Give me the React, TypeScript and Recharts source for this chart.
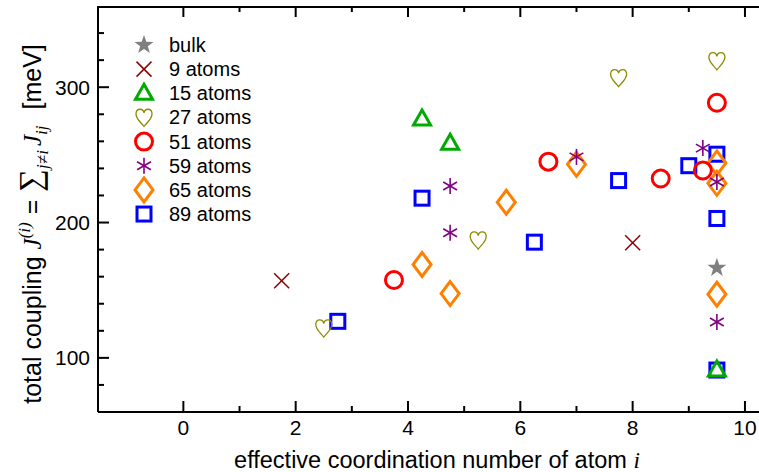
import React from 'react';
import { ScatterChart, Scatter, XAxis, YAxis } from 'recharts';

// coupling data: x = effective coordination number, y = total coupling (meV)
const bulk = [{ x: 9.5, y: 166.5 }];
const atoms9 = [{ x: 1.75, y: 157 }, { x: 8.0, y: 185 }];
const atoms15 = [{ x: 4.25, y: 276.5 }, { x: 4.75, y: 258.5 }, { x: 9.5, y: 91 }];
const atoms27 = [{ x: 2.5, y: 122 }, { x: 5.25, y: 187 }, { x: 7.75, y: 307 }, { x: 9.5, y: 319.5 }];
const atoms51 = [{ x: 3.75, y: 157.5 }, { x: 6.5, y: 245 }, { x: 8.5, y: 232.5 }, { x: 9.25, y: 238.5 }, { x: 9.5, y: 288.5 }];
const atoms59 = [{ x: 4.75, y: 227 }, { x: 4.75, y: 192.5 }, { x: 7.0, y: 248.5 }, { x: 9.25, y: 255 }, { x: 9.5, y: 230 }, { x: 9.5, y: 126.5 }];
const atoms65 = [{ x: 4.25, y: 169 }, { x: 4.75, y: 147.5 }, { x: 5.75, y: 215 }, { x: 7.0, y: 243 }, { x: 9.5, y: 244 }, { x: 9.5, y: 229 }, { x: 9.5, y: 147 }];
const atoms89 = [{ x: 2.75, y: 127 }, { x: 4.25, y: 218 }, { x: 6.25, y: 185.5 }, { x: 7.75, y: 231 }, { x: 9.0, y: 242 }, { x: 9.5, y: 250.5 }, { x: 9.5, y: 203 }, { x: 9.5, y: 91 }];

const xTicks = [0, 1, 2, 3, 4, 5, 6, 7, 8, 9, 10];
const yTicks = [80, 100, 120, 140, 160, 180, 200, 220, 240, 260, 280, 300, 320, 340];

const series = [
  { name: 'bulk', data: bulk, kind: 'star', color: '#808080' },
  { name: '9 atoms', data: atoms9, kind: 'cross', color: '#8b0000' },
  { name: '15 atoms', data: atoms15, kind: 'triangle', color: '#00aa00' },
  { name: '27 atoms', data: atoms27, kind: 'heart', color: '#8b8b00' },
  { name: '51 atoms', data: atoms51, kind: 'circle', color: '#ff0000' },
  { name: '59 atoms', data: atoms59, kind: 'asterisk', color: '#800080' },
  { name: '65 atoms', data: atoms65, kind: 'diamond', color: '#ff8000' },
  { name: '89 atoms', data: atoms89, kind: 'square', color: '#0000ff' },
];

const X_DOMAIN = [-1.52, 10.25];
const Y_DOMAIN = [60, 360];

// frame decorations placed through the chart scales: inward ticks and the top edge
const leftTicks = yTicks.map((v) => ({ x: X_DOMAIN[0], y: v, major: v % 100 === 0 }));
const bottomTicks = xTicks.map((v) => ({ x: v, y: Y_DOMAIN[0], major: v % 2 === 0 }));
const topTicks = xTicks.map((v) => ({ x: v, y: Y_DOMAIN[1], major: v % 2 === 0 }));
const topEdge = [{ x: X_DOMAIN[0], y: Y_DOMAIN[1] }, { x: X_DOMAIN[1], y: Y_DOMAIN[1] }];

const SANS = '"Liberation Sans", Arial, sans-serif';
const SERIF = '"Liberation Serif", "Times New Roman", serif';

function Marker({ kind, cx, cy, color }: any) {
  if (cx == null || cy == null) return null;
  switch (kind) {
    case 'star': {
      const pts = [];
      for (let i = 0; i < 10; i++) {
        const r = i % 2 === 0 ? 10 : 4;
        const a = -Math.PI / 2 + (i * Math.PI) / 5;
        pts.push(`${cx + r * Math.cos(a)},${cy + r * Math.sin(a)}`);
      }
      return <polygon points={pts.join(' ')} fill={color} />;
    }
    case 'cross':
      return (
        <g stroke={color} strokeWidth={1.5}>
          <line x1={cx - 7.5} y1={cy - 7.5} x2={cx + 7.5} y2={cy + 7.5} />
          <line x1={cx - 7.5} y1={cy + 7.5} x2={cx + 7.5} y2={cy - 7.5} />
        </g>
      );
    case 'triangle':
      return <polygon points={`${cx},${cy - 9} ${cx + 8.5},${cy + 6} ${cx - 8.5},${cy + 6}`} fill="none" stroke={color} strokeWidth={3} />;
    case 'heart':
      return (
        <path
          d={`M${cx},${cy + 9} C${cx - 3},${cy + 5} ${cx - 8.5},${cy + 1} ${cx - 8},${cy - 4} C${cx - 7.5},${cy - 9.5} ${cx - 1},${cy - 9.5} ${cx},${cy - 4.5} C${cx + 1},${cy - 9.5} ${cx + 7.5},${cy - 9.5} ${cx + 8},${cy - 4} C${cx + 8.5},${cy + 1} ${cx + 3},${cy + 5} ${cx},${cy + 9} Z`}
          fill="none"
          stroke={color}
          strokeWidth={1.3}
        />
      );
    case 'circle':
      return <circle cx={cx} cy={cy} r={8.5} fill="none" stroke={color} strokeWidth={3} />;
    case 'asterisk':
      return (
        <g stroke={color} strokeWidth={1.6}>
          <line x1={cx} y1={cy - 8} x2={cx} y2={cy + 8} />
          <line x1={cx - 6.9} y1={cy - 4} x2={cx + 6.9} y2={cy + 4} />
          <line x1={cx - 6.9} y1={cy + 4} x2={cx + 6.9} y2={cy - 4} />
        </g>
      );
    case 'diamond':
      return <polygon points={`${cx},${cy - 12} ${cx + 9},${cy} ${cx},${cy + 12} ${cx - 9},${cy}`} fill="none" stroke={color} strokeWidth={3} />;
    case 'square':
      return <rect x={cx - 7} y={cy - 7} width={14} height={14} fill="none" stroke={color} strokeWidth={3} />;
    default:
      return null;
  }
}

// dx/dy: direction the tick points into the plot
const tickShape = (dx: number, dy: number, color: string) => (p: any) => {
  if (p.cx == null || p.cy == null) return <g />;
  const len = p.payload && p.payload.major ? 11 : 6;
  return <line x1={p.cx} y1={p.cy} x2={p.cx + dx * len} y2={p.cy + dy * len} stroke={color} strokeWidth={2} />;
};

function LegendBox() {
  return (
    <g transform="translate(124,30)">
      {series.map((s, i) => (
        <g key={s.name}>
          <Marker kind={s.kind} cx={20} cy={15 + i * 24.15} color={s.color} />
          <text x={45} y={15 + i * 24.15} dy="0.35em" fontFamily={SANS} fontSize={20} fill="#000">
            {s.name}
          </text>
        </g>
      ))}
    </g>
  );
}

const tickFont = { fill: '#000', fontSize: 21, fontFamily: SANS };

export default function App() {
  return (
    <div style={{ position: 'absolute', left: 0, top: 0, width: 759, height: 472 }}>
      <ScatterChart width={759} height={472} margin={{ top: 6, right: 0, bottom: 0, left: 0 }}>
        <XAxis
          type="number"
          dataKey="x"
          domain={X_DOMAIN}
          allowDataOverflow
          ticks={xTicks}
          interval={0}
          height={60}
          tick={tickFont}
          tickFormatter={(v: number) => (v % 2 === 0 ? String(v) : '')}
          axisLine={{ stroke: '#000', strokeWidth: 2 }}
          tickLine={false}
        />
        <YAxis
          type="number"
          dataKey="y"
          domain={Y_DOMAIN}
          allowDataOverflow
          ticks={yTicks}
          interval={0}
          width={98}
          tick={tickFont}
          tickFormatter={(v: number) => (v % 100 === 0 ? String(v) : '')}
          axisLine={{ stroke: '#000', strokeWidth: 2 }}
          tickLine={false}
        />
        <Scatter data={topEdge} isAnimationActive={false} line={{ stroke: '#000000', strokeWidth: 4 }} shape={() => <g />} />
        <Scatter data={leftTicks} isAnimationActive={false} shape={tickShape(1, 0, '#000000')} />
        <Scatter data={bottomTicks} isAnimationActive={false} shape={tickShape(0, -1, '#000000')} />
        <Scatter data={topTicks} isAnimationActive={false} shape={tickShape(0, 1, '#000000')} />
        {[...series].reverse().map((s) => (
          <Scatter
            key={s.name}
            name={s.name}
            data={s.data}
            fill={s.color}
            isAnimationActive={false}
            shape={(p: any) => <Marker kind={s.kind} cx={p.cx} cy={p.cy} color={s.color} />}
          />
        ))}
      </ScatterChart>
      <svg width={759} height={472} style={{ position: 'absolute', left: 0, top: 0, pointerEvents: 'none' }}>
        <LegendBox />
        <text x={437} y={460} dy="0.35em" textAnchor="middle" fontFamily={SANS} fontSize={23.5} fill="#000">
          effective coordination number of atom{' '}
          <tspan fontFamily={SERIF} fontStyle="italic">i</tspan>
        </text>
        <text transform="translate(41,224) rotate(-90)" textAnchor="middle" fontFamily={SANS} fontSize={25} fill="#000">
          <tspan>total coupling</tspan>
          <tspan dx={7} fontFamily={SERIF} fontStyle="italic">J</tspan>
          <tspan dy={-11} fontSize={17} fontFamily={SERIF} fontStyle="italic">(i)</tspan>
          <tspan dy={11} dx={8}>=</tspan>
          <tspan dx={8} fontFamily={SERIF} fontSize={32}>∑</tspan>
          <tspan dy={7} fontSize={17} fontFamily={SERIF} fontStyle="italic">j≠i</tspan>
          <tspan dy={-7} dx={4} fontFamily={SERIF} fontStyle="italic">J</tspan>
          <tspan dy={6} fontSize={17} fontFamily={SERIF} fontStyle="italic">ij</tspan>
          <tspan dy={-6} dx={16}>[meV]</tspan>
        </text>
      </svg>
    </div>
  );
}
